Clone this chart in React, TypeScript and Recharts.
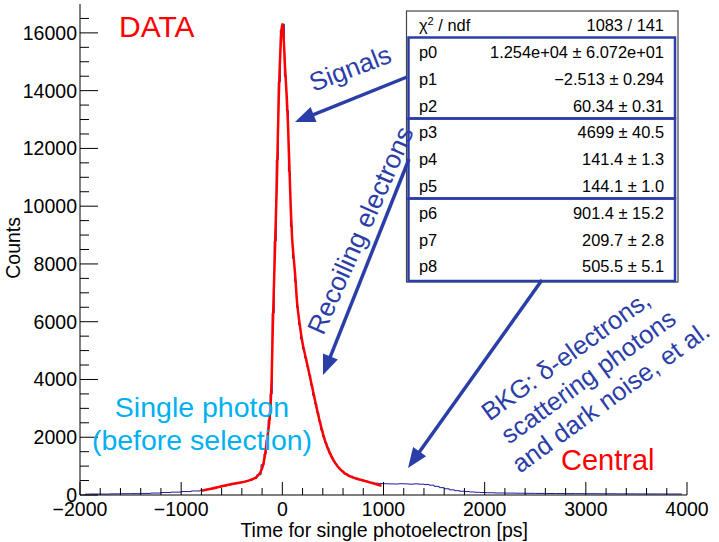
import React from 'react';
import { ComposedChart, Line, XAxis, YAxis } from 'recharts';

// ---------------- data ----------------
const histTimes = [
  -1950, -1850, -1750, -1650, -1550, -1450, -1350, -1250, -1150, -1050, -950, -850,
  -775, -725, -675, -625, -575, -525, -475, -425, -375, -325, -275,
  -230,
  -190, -170, -150, -130, -110, -90, -70, -50, -30, -10,
  10, 30, 50, 70, 90, 110, 130, 150, 170, 190,
  210, 230, 250, 270, 290, 310, 330, 350, 370, 390,
  410, 430, 450, 470, 490, 510, 530, 550, 570, 590,
  625, 675, 725, 775, 825, 875, 925, 975, 1025, 1075, 1125, 1175, 1225, 1275,
  1325, 1375, 1425, 1475, 1525, 1575, 1625, 1675, 1725, 1775, 1825, 1875, 1925, 1975,
  2050, 2150, 2250, 2350, 2450, 2550, 2650, 2750, 2850, 2950,
  3050, 3150, 3250, 3350, 3450, 3550, 3650, 3750, 3850, 3950,
];
const histCounts = [
  30, 35, 32, 40, 45, 48, 55, 68, 85, 100, 118, 140,
  165, 200, 235, 275, 310, 350, 390, 425, 460, 500, 570,
  700,
  1050, 1420, 1900, 2600, 3500, 6300, 8800, 11600, 14300, 16100,
  16300, 14500, 13300, 11200, 9300, 8200, 7400, 6500, 5900, 5400,
  5050, 4750, 4450, 4150, 3800, 3450, 3150, 2850, 2550, 2250,
  2000, 1800, 1620, 1450, 1310, 1180, 1080, 970, 890, 830,
  730, 650, 580, 530, 480, 440, 410, 395, 390, 385, 380, 390, 385, 375,
  385, 375, 365, 340, 300, 255, 215, 180, 150, 130, 118, 105, 95, 85,
  78, 70, 66, 62, 58, 55, 52, 50, 48, 46,
  45, 43, 42, 40, 40, 38, 37, 36, 35, 35,
];

const fitTimes = [
  -800, -700, -600, -500, -400, -300, -250, -200, -170, -150, -130, -115, -105, -95,
  -85, -75, -65, -55, -45, -35, -25, -15, -5, 0, 5, 15, 25, 35, 45, 55, 65, 75, 85, 95,
  110, 125, 145, 170, 195, 225, 260, 300, 340, 380, 420, 470, 520, 580, 650, 720, 800, 880, 980,
];
const fitCounts = [
  150, 215, 300, 380, 440, 540, 640, 920, 1420, 1950, 2500, 3200, 4100, 5700,
  7000, 8200, 9500, 10700, 12300, 13800, 14900, 15700, 16200, 16300, 16250, 15700, 14950, 14300, 13700, 12900, 11900, 10800, 9800, 9000,
  8300, 7700, 6700, 5950, 5350, 4850, 4300, 3650, 3000, 2400, 1900, 1450, 1120, 860, 680, 580, 500, 420, 320,
];

const xTicks = [
  -2000, -1800, -1600, -1400, -1200, -1000, -800, -600, -400, -200, 0, 200, 400, 600, 800,
  1000, 1200, 1400, 1600, 1800, 2000, 2200, 2400, 2600, 2800, 3000, 3200, 3400, 3600, 3800, 4000,
];
const yTicks = [
  0, 500, 1000, 1500, 2000, 2500, 3000, 3500, 4000, 4500, 5000, 5500, 6000, 6500, 7000, 7500,
  8000, 8500, 9000, 9500, 10000, 10500, 11000, 11500, 12000, 12500, 13000, 13500, 14000, 14500,
  15000, 15500, 16000, 16500,
];

const statLabels = ['p0', 'p1', 'p2', 'p3', 'p4', 'p5', 'p6', 'p7', 'p8'];
const statValues = [
  '1.254e+04 ± 6.072e+01',
  '\u22122.513 ± 0.294',
  '60.34 ± 0.31',
  '4699 ± 40.5',
  '141.4 ± 1.3',
  '144.1 ± 1.0',
  '901.4 ± 15.2',
  '209.7 ± 2.8',
  '505.5 ± 5.1',
];
const chiValue = '1083 / 141';

const histData = histTimes.map((t, i) => ({ t, c: histCounts[i] }));
const fitData = fitTimes.map((t, i) => ({ t, c: fitCounts[i] }));

// ---------------- styling ----------------
const FONT = '"Liberation Sans", Arial, Helvetica, sans-serif';
const BLUE = '#2b3ea8';
const HIST = '#1c1c9c';
const CYAN = '#00b0f0';
const RED = '#ff0000';
const STAT_FS = 16.4;

const fmt = (v: number) => (v < 0 ? '\u2212' + Math.abs(v) : String(v));

const XTick = (props: any) => {
  const { x, y, payload } = props;
  const v = payload.value as number;
  const major = v % 1000 === 0;
  return (
    <g>
      <line x1={x} x2={x} y1={y} y2={y - (major ? 13 : 7)} stroke="#000" strokeWidth={1} />
      {major && (
        <text x={x} y={y + 21} textAnchor="middle" fontFamily={FONT} fontSize={19.5} fill="#000">
          {fmt(v)}
        </text>
      )}
    </g>
  );
};

const YTick = (props: any) => {
  const { x, y, payload } = props;
  const v = payload.value as number;
  const major = v % 2000 === 0;
  return (
    <g>
      <line x1={x} x2={x + (major ? 18 : 9)} y1={y} y2={y} stroke="#000" strokeWidth={1} />
      {major && (
        <text x={x - 3} y={y} dy="0.36em" textAnchor="end" fontFamily={FONT} fontSize={19.5} fill="#000">
          {fmt(v)}
        </text>
      )}
    </g>
  );
};

const Arrow = ({ x1, y1, x2, y2 }: { x1: number; y1: number; x2: number; y2: number }) => {
  const dx = x2 - x1;
  const dy = y2 - y1;
  const len = Math.sqrt(dx * dx + dy * dy);
  const ux = dx / len;
  const uy = dy / len;
  const L = 20;
  const W = 8;
  const bx = x2 - ux * L;
  const by = y2 - uy * L;
  const nx = -uy;
  const ny = ux;
  return (
    <g>
      <line x1={x1} y1={y1} x2={bx + ux * 2} y2={by + uy * 2} stroke={BLUE} strokeWidth={3.5} />
      <polygon
        points={`${x2},${y2} ${bx + nx * W},${by + ny * W} ${bx - nx * W},${by - ny * W}`}
        fill={BLUE}
      />
    </g>
  );
};

const Overlay = () => {
  const rowY = (i: number) => 52 + i * 26.8;
  return (
    <svg
      width={719}
      height={542}
      style={{ position: 'absolute', left: 0, top: 0, pointerEvents: 'none' }}
      fontFamily={FONT}
    >
      {/* stats box */}
      <rect x={406.5} y={11} width={271.5} height={271} fill="#fff" stroke="#444" strokeWidth={1.2} />
      <text x={419} y={25} dy="0.36em" fontSize={STAT_FS} fill="#000">
        χ<tspan dy="-6" fontSize={11}>2</tspan>
        <tspan dy="6"> / ndf</tspan>
      </text>
      <text x={664} y={25} dy="0.36em" fontSize={STAT_FS} fill="#000" textAnchor="end">
        {chiValue}
      </text>
      {statLabels.map((l, i) => (
        <g key={l}>
          <text x={419} y={rowY(i)} dy="0.36em" fontSize={STAT_FS} fill="#000">
            {l}
          </text>
          <text x={664} y={rowY(i)} dy="0.36em" fontSize={STAT_FS} fill="#000" textAnchor="end">
            {statValues[i]}
          </text>
        </g>
      ))}
      <rect x={408.5} y={37.5} width={266.5} height={81} fill="none" stroke={BLUE} strokeWidth={2.5} />
      <rect x={408.5} y={118.5} width={266.5} height={80} fill="none" stroke={BLUE} strokeWidth={2.5} />
      <rect x={408.5} y={198.5} width={266.5} height={82.5} fill="none" stroke={BLUE} strokeWidth={2.5} />

      {/* arrows */}
      <Arrow x1={407} y1={77} x2={295} y2={122} />
      <Arrow x1={409} y1={159} x2={323} y2={375} />
      <Arrow x1={542} y1={280} x2={408} y2={468} />

      {/* annotations */}
      <text x={119} y={37} fontSize={30} fill={RED}>
        DATA
      </text>
      <text x={561} y={470} fontSize={29} fill={RED}>
        Central
      </text>
      <text x={202} y={417} fontSize={28.5} fill={CYAN} textAnchor="middle">
        Single photon
      </text>
      <text x={202} y={450} fontSize={28.5} fill={CYAN} textAnchor="middle">
        (before selection)
      </text>
      <text
        x={0}
        y={0}
        fontSize={26}
        fill={BLUE}
        textAnchor="middle"
        dy="0.36em"
        transform="translate(350 68) rotate(-21)"
      >
        Signals
      </text>
      <text
        x={0}
        y={0}
        fontSize={26.5}
        fill={BLUE}
        textAnchor="middle"
        dy="0.36em"
        transform="translate(360 230) rotate(-66)"
      >
        Recoiling electrons
      </text>
      <g transform="translate(588 376) rotate(-36)">
        <text x={-6} y={-30} dy="0.36em" fontSize={25.5} fill={BLUE} textAnchor="middle">
          BKG: δ-electrons,
        </text>
        <text x={0} y={0} dy="0.36em" fontSize={25.5} fill={BLUE} textAnchor="middle">
          scattering photons
        </text>
        <text x={6} y={30} dy="0.36em" fontSize={25.5} fill={BLUE} textAnchor="middle">
          and dark noise, et al.
        </text>
      </g>

      {/* axis titles */}
      <text x={528} y={537} fontSize={19.5} fill="#000" textAnchor="end">
        Time for single photoelectron [ps]
      </text>
      <text x={0} y={0} fontSize={19.5} fill="#000" textAnchor="end" transform="translate(20 217) rotate(-90)">
        Counts
      </text>
    </svg>
  );
};

export default function App() {
  return (
    <div style={{ position: 'absolute', left: 0, top: 0, width: 719, height: 542, background: '#fff' }}>
      <ComposedChart width={719} height={542} margin={{ top: 4, right: 32, bottom: 0, left: 0 }}>
        <XAxis
          xAxisId="b"
          dataKey="t"
          type="number"
          domain={[-2000, 4000]}
          ticks={xTicks}
          interval={0}
          tickSize={0}
          tickMargin={0}
          height={47}
          tickLine={false}
          axisLine={{ stroke: '#000', strokeWidth: 1 }}
          tick={(p: any) => <XTick {...p} />}
          allowDataOverflow
        />
        <XAxis
          xAxisId="t"
          orientation="top"
          type="number"
          domain={[-2000, 4000]}
          tick={false}
          tickLine={false}
          height={0}
          axisLine={{ stroke: '#555', strokeWidth: 1.5 }}
          allowDataOverflow
        />
        <YAxis
          yAxisId="l"
          type="number"
          domain={[0, 17000]}
          ticks={yTicks}
          interval={0}
          tickSize={0}
          tickMargin={0}
          width={80}
          tickLine={false}
          axisLine={{ stroke: '#000', strokeWidth: 1 }}
          tick={(p: any) => <YTick {...p} />}
          allowDataOverflow
        />
        <YAxis
          yAxisId="r"
          orientation="right"
          type="number"
          domain={[0, 17000]}
          tick={false}
          tickLine={false}
          width={0}
          axisLine={{ stroke: '#555', strokeWidth: 1.5 }}
          allowDataOverflow
        />
        <Line
          xAxisId="b"
          yAxisId="l"
          data={histData}
          dataKey="c"
          type="step"
          stroke={HIST}
          strokeWidth={1}
          dot={false}
          isAnimationActive={false}
        />
        <Line
          xAxisId="b"
          yAxisId="l"
          data={fitData}
          dataKey="c"
          type="monotone"
          stroke={RED}
          strokeWidth={2.5}
          dot={false}
          isAnimationActive={false}
        />
      </ComposedChart>
      <Overlay />
    </div>
  );
}
